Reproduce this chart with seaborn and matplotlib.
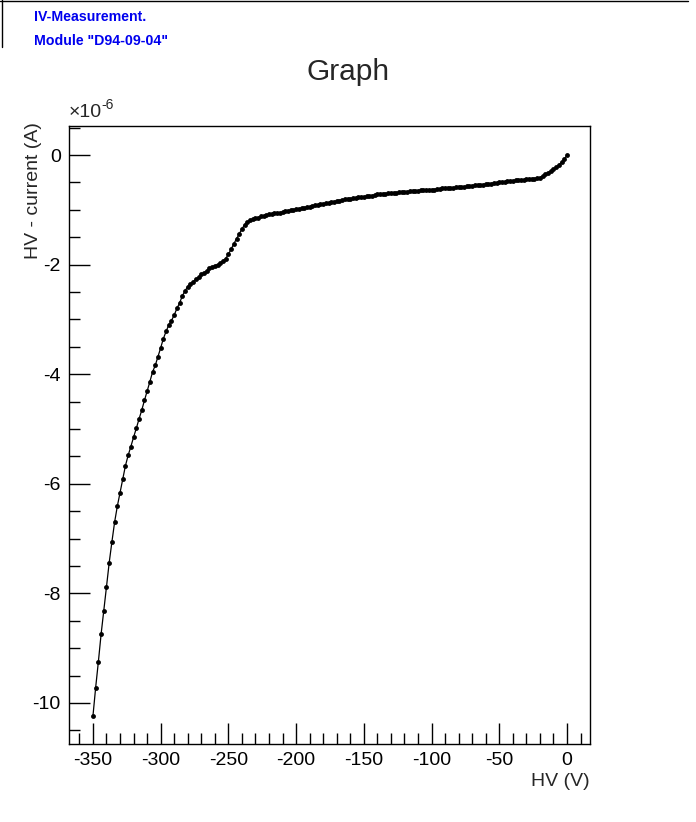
import numpy as np
import matplotlib
matplotlib.use("Agg")
import matplotlib.pyplot as plt
from matplotlib.lines import Line2D
from matplotlib.ticker import MultipleLocator, FuncFormatter
import seaborn as sns
import pandas as pd

# HV scan, 2 V steps
hv_volts = [
    -350, -348, -346, -344, -342, -340, -338, -336, -334, -332,
    -330, -328, -326, -324, -322, -320, -318, -316, -314, -312,
    -310, -308, -306, -304, -302, -300, -298, -296, -294, -292,
    -290, -288, -286, -284, -282, -280, -278, -276, -274, -272,
    -270, -268, -266, -264, -262, -260, -258, -256, -254, -252,
    -250, -248, -246, -244, -242, -240, -238, -236, -234, -232,
    -230, -228, -226, -224, -222, -220, -218, -216, -214, -212,
    -210, -208, -206, -204, -202, -200, -198, -196, -194, -192,
    -190, -188, -186, -184, -182, -180, -178, -176, -174, -172,
    -170, -168, -166, -164, -162, -160, -158, -156, -154, -152,
    -150, -148, -146, -144, -142, -140, -138, -136, -134, -132,
    -130, -128, -126, -124, -122, -120, -118, -116, -114, -112,
    -110, -108, -106, -104, -102, -100, -98, -96, -94, -92,
    -90, -88, -86, -84, -82, -80, -78, -76, -74, -72,
    -70, -68, -66, -64, -62, -60, -58, -56, -54, -52,
    -50, -48, -46, -44, -42, -40, -38, -36, -34, -32,
    -30, -28, -26, -24, -22, -20, -18, -16, -14, -12,
    -10, -8, -6, -4, -2, 0,
]

# current in units of 1e-6 A
current_ua = [
    -10.24, -9.72, -9.25, -8.75, -8.32, -7.88, -7.44, -7.06, -6.70, -6.41,
    -6.16, -5.91, -5.67, -5.48, -5.32, -5.15, -4.99, -4.82, -4.66, -4.48,
    -4.31, -4.14, -3.96, -3.84, -3.68, -3.52, -3.35, -3.22, -3.10, -3.02,
    -2.92, -2.80, -2.70, -2.57, -2.48, -2.40, -2.35, -2.31, -2.27, -2.23,
    -2.18, -2.15, -2.11, -2.07, -2.04, -2.02, -2.00, -1.97, -1.93, -1.89,
    -1.81, -1.72, -1.62, -1.53, -1.44, -1.35, -1.27, -1.22, -1.19, -1.17,
    -1.15, -1.14, -1.12, -1.11, -1.09, -1.08, -1.07, -1.06, -1.06, -1.05,
    -1.04, -1.03, -1.02, -1.01, -1.00, -0.99, -0.98, -0.97, -0.96, -0.95,
    -0.94, -0.93, -0.92, -0.91, -0.89, -0.89, -0.88, -0.87, -0.86, -0.85,
    -0.84, -0.83, -0.82, -0.81, -0.80, -0.80, -0.79, -0.78, -0.77, -0.77,
    -0.76, -0.75, -0.75, -0.74, -0.73, -0.72, -0.72, -0.71, -0.71, -0.70,
    -0.70, -0.69, -0.69, -0.68, -0.68, -0.67, -0.67, -0.66, -0.66, -0.65,
    -0.65, -0.64, -0.64, -0.64, -0.64, -0.63, -0.63, -0.62, -0.62, -0.61,
    -0.61, -0.61, -0.60, -0.60, -0.59, -0.59, -0.58, -0.58, -0.57, -0.56,
    -0.56, -0.55, -0.55, -0.54, -0.54, -0.53, -0.52, -0.52, -0.51, -0.51,
    -0.50, -0.49, -0.49, -0.48, -0.47, -0.47, -0.46, -0.46, -0.45, -0.45,
    -0.44, -0.44, -0.44, -0.43, -0.42, -0.41, -0.38, -0.35, -0.32, -0.29,
    -0.26, -0.22, -0.18, -0.13, -0.08, 0.00,
]

x_ticks = [-350, -300, -250, -200, -150, -100, -50, 0]
y_ticks = [0, -2, -4, -6, -8, -10]

df = pd.DataFrame({"hv": hv_volts, "current": current_ua})

sns.set_style("white")
plt.rcParams["font.family"] = ["Liberation Sans", "DejaVu Sans"]
plt.rcParams["axes.unicode_minus"] = False

fig = plt.figure(figsize=(6.96, 8.22), dpi=100)
ax = fig.add_axes([0.0991, 0.0949, 0.7486, 0.7518])

sns.lineplot(data=df, x="hv", y="current", ax=ax, sort=False, color="black",
             linewidth=0.9, marker="o", markersize=3.5, markeredgewidth=0,
             estimator=None)

ax.set_xlim(-367.7, 17.0)
ax.set_ylim(-10.75, 0.53)
ax.set_xticks(x_ticks)
ax.set_yticks(y_ticks)
ax.xaxis.set_minor_locator(MultipleLocator(10))
ax.yaxis.set_minor_locator(MultipleLocator(0.5))
ax.yaxis.set_major_formatter(FuncFormatter(lambda v, p: f"{v:g}"))
ax.tick_params(which="both", direction="in", top=False, right=False,
               bottom=True, left=True, labelsize=14, colors="black", width=1)
ax.tick_params(which="major", length=15, pad=6)
ax.tick_params(which="minor", length=8)
for s in ax.spines.values():
    s.set_color("black")
    s.set_linewidth(1)

ax.set_xlabel("HV (V)", fontsize=14, loc="right", labelpad=3)
ax.set_ylabel("HV - current (A)", fontsize=14, loc="top")
ax.yaxis.set_label_coords(-0.052, 1.006)

# exponent label above the y axis
ax.text(0.0, 1.008, "×10", transform=ax.transAxes, fontsize=14,
        ha="left", va="bottom")
ax.text(0.063, 1.022, "-6", transform=ax.transAxes, fontsize=10,
        ha="left", va="bottom")

fig.text(0.5, 1 - 72 / 822, "Graph", fontsize=21.5, ha="center", va="center")

# info box at top left
fig.text(34 / 696, 1 - 17 / 822, "IV-Measurement.", color="#0000ee",
         fontsize=10.2, fontweight="bold", ha="left", va="center")
fig.text(34 / 696, 1 - 41 / 822, 'Module "D94-09-04"', color="#0000ee",
         fontsize=10.2, fontweight="bold", ha="left", va="center")
fig.add_artist(Line2D([0, 688 / 696], [1 - 1 / 822, 1 - 1 / 822],
                      transform=fig.transFigure, color="black", linewidth=1))
fig.add_artist(Line2D([1.5 / 696, 1.5 / 696], [1, 1 - 47 / 822],
                      transform=fig.transFigure, color="black", linewidth=1))

fig.savefig("out.png", dpi=100, facecolor="white")
